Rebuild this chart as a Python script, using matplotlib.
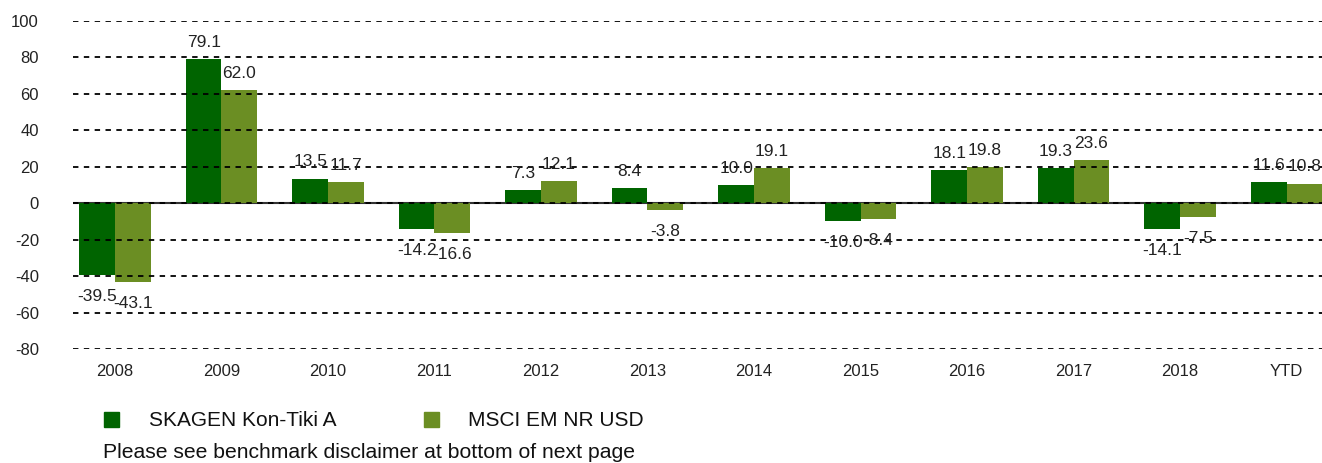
import matplotlib.pyplot as plt
import numpy as np
from matplotlib.patches import Patch

plt.rcParams['font.family'] = ['Liberation Sans', 'DejaVu Sans']
plt.rcParams['axes.unicode_minus'] = False

#-------------------------#DATA#-------------------------------#

years = ['2008', '2009', '2010', '2011', '2012', '2013', '2014', '2015', '2016', '2017', '2018', 'YTD']
skagen = [-39.5, 79.1, 13.5, -14.2, 7.3, 8.4, 10.0, -10.0, 18.1, 19.3, -14.1, 11.6]
msci = [-43.1, 62.0, 11.7, -16.6, 12.1, -3.8, 19.1, -8.4, 19.8, 23.6, -7.5, 10.8]

names = ['SKAGEN Kon-Tiki A', 'MSCI EM NR USD']
colors = ['#006400', '#6B8E23']

#--------------------------------------------------------------#

fig = plt.figure(figsize=(13.22, 4.63), dpi=100)
ax = fig.add_axes([73/1322, 1-349/463, 1-73/1322, (349-21)/463])

x = np.arange(len(years))
w = 0.335

for serie, off, col in [(skagen, -w/2, colors[0]), (msci, w/2, colors[1])]:
    bars = ax.bar(x + off, serie, width=w, color=col, zorder=2)
    for b, v in zip(bars, serie):
        cx = b.get_x() + b.get_width()/2
        if v >= 0:
            dy = 12
        else:
            dy = -15.5
        ax.annotate(f"{v:.1f}", (cx, v), xytext=(0, dy), textcoords='offset points',
                    ha='center', va='center', fontsize=12.5, color='#222222', zorder=4)

# grille pointillée
for yv in range(-80, 101, 20):
    ax.axhline(yv, color='black', linewidth=1.3, linestyle=(0, (3, 3)), zorder=3)
ax.axhline(0, color='#333333', linewidth=1.5, zorder=1)

ax.set_ylim(-80, 100)
ax.set_xlim(-0.394, 11.333)
ax.set_yticks(range(-80, 101, 20))
ax.set_xticks(x)
ax.set_xticklabels(years)
ax.tick_params(axis='both', length=0, labelsize=12, labelcolor='#222222')
ax.tick_params(axis='y', pad=24.5)
ax.tick_params(axis='x', pad=11)
for s in ax.spines.values():
    s.set_visible(False)

handles = [Patch(color=colors[0]), Patch(color=colors[1])]
fig.legend(handles, names, loc='center left', bbox_to_anchor=(85/1322, 1-421/463), ncol=2,
           frameon=False, fontsize=15, handlelength=0.75, handleheight=0.75,
           handletextpad=1.4, columnspacing=4.2, labelcolor='#111111')

fig.text(103/1322, 1-453/463, "Please see benchmark disclaimer at bottom of next page",
         fontsize=15.2, va='center', ha='left', color='#111111')

plt.savefig('out.png', dpi=100)
